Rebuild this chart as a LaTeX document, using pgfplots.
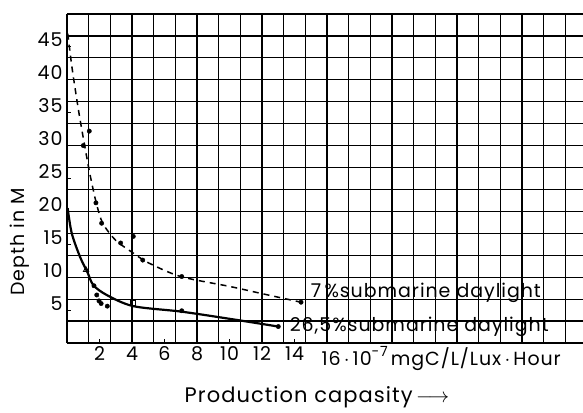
\documentclass[border=0pt]{standalone}
\usepackage{fontspec}
\setmainfont{Poppins}[LetterSpace=5]
\usepackage{pgfplots}
\pgfplotsset{compat=1.18}
\begin{document}
\begin{tikzpicture}
\useasboundingbox (-67bp,-70bp) rectangle (516bp,343bp);
\begin{axis}[
  at={(0,0)}, anchor=south west,
  scale only axis, width=516bp, height=329bp,
  xmin=0, xmax=31.75, ymin=0, ymax=50,
  axis x line*=box, axis y line*=left,
  axis line style={-, line width=2.4bp, black},
  tick pos=left,
  major tick length=4bp,
  tick style={black, line width=1bp},
  minor tick length=0pt,
  font=\fontsize{19bp}{22bp}\selectfont,
  /pgf/number format/assume math mode=true,
  xtick={2,4,6,8,10,12,14},
  extra x ticks={16},
  extra x tick labels={16\,$\cdot$\,10\raisebox{0.9ex}{\fontsize{14bp}{16bp}\selectfont -7}\,mgC/L/Lux\,$\cdot$\,Hour},
  extra x tick style={xticklabel style={anchor=north west, xshift=-9bp}},
  ytick={5,10,15,20,25,30,35,40,45},
  yticklabel style={anchor=base east, xshift=-1bp},
  minor xtick={1.3333,2.6667,4,5.3333,6.6667,8,9.3333,10.6667,12,13.3333,14.6667,16,17.3333,18.6667,20,21.3333,22.6667,24,25.3333,26.6667,28,29.3333,30.6667},
  minor ytick={3.3333,6.6667,10,13.3333,16.6667,20,23.3333,26.6667,30,33.3333,36.6667,40,43.3333,46.6667},
  xminorgrids, yminorgrids,
  minor grid style={black, line width=1.2bp},
  xlabel={Production capasity$\,\longrightarrow$},
  xlabel style={at={(axis description cs:0.4845,-0.164)}, anchor=center, font=\fontsize{21bp}{24bp}\selectfont},
  ylabel={Depth in M},
  ylabel style={at={(axis description cs:-0.091,0.307)}, anchor=center},
  clip=false,
]
% 7% submarine daylight (dashed curve)
\addplot[black, line width=1.5bp, dash pattern=on 6bp off 5bp, smooth, tension=0.5] coordinates {
 (0.05,47) (0.3,42) (0.7,35.5) (1.05,30.5) (1.4,25.8) (1.8,21.3) (2.2,18.2)
 (3,15.6) (4,13.8) (5,12.2) (7,10.1) (10,8.6) (12,7.5) (14.4,6.2)
};
\addplot[black, only marks, mark=*, mark size=2.2bp] coordinates {
 (1.0,30) (1.37,32.2) (1.78,21.3) (2.13,18.2) (3.3,15.2) (4.08,16.2) (4.66,12.6) (7.06,10.1) (14.4,6.2)
};
% 26.5% submarine daylight (solid curve)
\addplot[black, line width=2.2bp, smooth, tension=0.5] coordinates {
 (0.04,20.5) (0.29,16.7) (0.8,13.1) (1.25,10.8) (1.62,8.8) (2.44,7.3)
 (4.08,5.6) (7.06,4.76) (10.2,3.6) (13.0,2.5)
};
\addplot[black, only marks, mark=*, mark size=2.2bp] coordinates {
 (1.66,8.7) (1.83,7.3) (1.97,6.4) (2.1,6.0) (2.48,5.6) (7.06,4.9) (13.0,2.5)
};
\addplot[black, only marks, mark=triangle, mark size=3bp, line width=0.9bp] coordinates {(1.17,11.1)};
\addplot[black, only marks, mark=square, mark size=2.6bp, line width=0.9bp] coordinates {(4.08,6.1)};
\node[anchor=west, inner sep=0pt] at (axis cs:15.0,7.6) {7\,\%submarine daylight};
\node[anchor=west, inner sep=0pt] at (axis cs:13.7,2.4) {26,5\%submarine daylight};
\end{axis}
\end{tikzpicture}
\end{document}
